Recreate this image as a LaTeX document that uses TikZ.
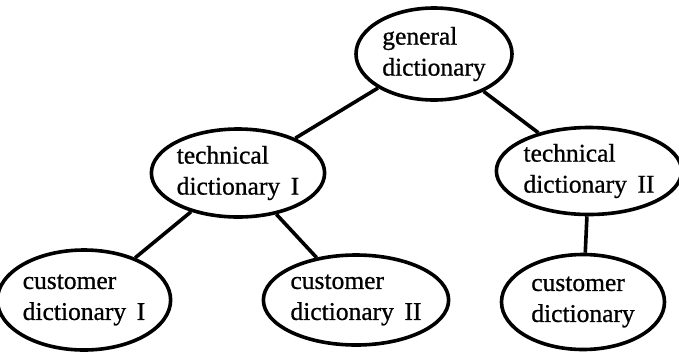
\documentclass[tikz,border=0pt]{standalone}
\usepackage{fontspec}
\setmainfont{Liberation Serif}[FakeBold=0.8]
\usetikzlibrary{shapes.geometric}
\begin{document}
\begin{tikzpicture}[x=1pt,y=-1pt,
  dict/.style={ellipse, draw, line width=3.6pt, inner sep=0pt,
    align=left, font=\fontsize{25.5}{31}\selectfont},
  link/.style={line width=3.6pt}]
  \useasboundingbox (0,0) rectangle (679,362);
  % dictionary hierarchy
  \node[dict, minimum width=156pt, minimum height=92pt] (gen) at (434,54) {general\\dictionary};
  \node[dict, minimum width=161pt, minimum height=88pt] (tech1) at (238,173) {technical\\dictionary\, I};
  \node[dict, minimum width=164pt, minimum height=87pt] (tech2) at (589,171) {technical\\dictionary\, II};
  \node[dict, minimum width=160pt, minimum height=100pt] (cust1) at (84,300) {customer\\dictionary\, I};
  \node[dict, minimum width=169pt, minimum height=90pt] (cust2) at (356,300) {customer\\dictionary\, II};
  \node[dict, minimum width=163pt, minimum height=95pt] (cust3) at (583,302) {customer\\dictionary};
  % connectors
  \draw[link] (gen) -- (tech1);
  \draw[link] (gen) -- (tech2);
  \draw[link] (tech1) -- (cust1);
  \draw[link] (tech1) -- (cust2);
  \draw[link] (tech2) -- (cust3);
\end{tikzpicture}
\end{document}
